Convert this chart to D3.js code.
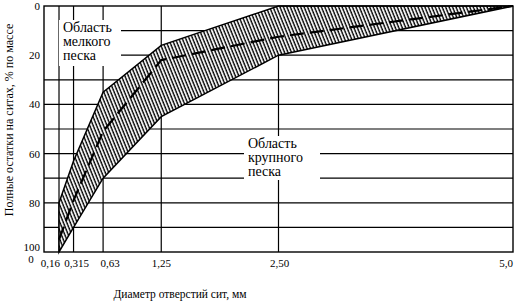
<!DOCTYPE html>
<html>
<head>
<meta charset="utf-8">
<script src="https://cdn.jsdelivr.net/npm/d3@7"></script>
<style>
  body { margin: 0; background: #fff; }
  svg text { font-family: "Liberation Serif", "Times New Roman", Times, "DejaVu Serif", serif; }
</style>
</head>
<body>
<svg width="517" height="304"></svg>
<script>
// Sieve sizes (mm) and their labels
const sieves = [0.16, 0.315, 0.63, 1.25, 2.5, 5.0];
const sieveLabels = ["0,16", "0,315", "0,63", "1,25", "2,50", "5,0"];

// Total residue on sieves, % by mass
const fineLimit   = [80, 63, 35, 16, 0, 0];    // upper edge of the band
const coarseLimit = [100, 90, 70, 45, 20, 0];  // lower edge of the band
const middleLine  = [95, 79, 51, 22, 12.5, 0]; // dashed line

const yTicks = [0, 20, 40, 60, 80, 100];
const yGrid = [10, 20, 30, 40, 50, 60, 70, 80, 90];

const svg = d3.select("svg");

const x = d3.scaleLinear().domain([0, 5]).range([44, 513]);
const y = d3.scaleLinear().domain([0, 100]).range([6, 252]);

// hatch pattern
const defs = svg.append("defs");
const pat = defs.append("pattern")
    .attr("id", "hatch")
    .attr("patternUnits", "userSpaceOnUse")
    .attr("width", 3.2)
    .attr("height", 10)
    .attr("patternTransform", "rotate(-22)");
pat.append("rect").attr("width", 3.2).attr("height", 10).attr("fill", "#fff");
pat.append("line")
    .attr("x1", 1).attr("y1", 0).attr("x2", 1).attr("y2", 10)
    .attr("stroke", "#000").attr("stroke-width", 1.4);

// grid
const grid = svg.append("g").attr("stroke", "#000").attr("stroke-width", 1.2);
grid.selectAll("line.h")
  .data(yGrid)
  .enter().append("line")
    .attr("x1", d => d <= 20 ? x(0.16) : x(0))
    .attr("x2", x(5))
    .attr("y1", d => y(d))
    .attr("y2", d => y(d));
grid.selectAll("line.v")
  .data(sieves.slice(0, -1))
  .enter().append("line")
    .attr("x1", d => x(d))
    .attr("x2", d => x(d))
    .attr("y1", y(0))
    .attr("y2", y(100));

// band
const pts = sieves.map((s, i) => ({s, lo: fineLimit[i], hi: coarseLimit[i], mid: middleLine[i]}));
const band = d3.area()
    .x(d => x(d.s))
    .y0(d => y(d.hi))
    .y1(d => y(d.lo));
svg.append("path")
    .datum(pts)
    .attr("d", band)
    .attr("fill", "url(#hatch)")
    .attr("stroke", "#000")
    .attr("stroke-width", 1.5);

// dashed middle line
svg.append("path")
    .datum(pts)
    .attr("d", d3.line().x(d => x(d.s)).y(d => y(d.mid)))
    .attr("fill", "none")
    .attr("stroke", "#000")
    .attr("stroke-width", 2.2)
    .attr("stroke-dasharray", "14,6");

// region labels with white backing
function regionLabel(lines, x0, y0, boxW, boxH) {
  const g = svg.append("g");
  g.append("rect")
    .attr("x", x0 - 4).attr("y", y0 - 12)
    .attr("width", boxW).attr("height", boxH)
    .attr("fill", "#fff");
  g.selectAll("text")
    .data(lines)
    .enter().append("text")
      .attr("x", x0)
      .attr("y", (d, i) => y0 + i * 14)
      .attr("font-size", 14)
      .text(d => d);
}
regionLabel(["Область", "мелкого", "песка"], 63, 32, 62, 46);
regionLabel(["Область", "крупного", "песка"], 248, 148, 76, 44);

// frame
svg.append("rect")
    .attr("x", x(0)).attr("y", y(0))
    .attr("width", x(5) - x(0)).attr("height", y(100) - y(0))
    .attr("fill", "none")
    .attr("stroke", "#000")
    .attr("stroke-width", 1.4);

// y tick labels
svg.append("g").selectAll("text")
  .data(yTicks)
  .enter().append("text")
    .attr("x", x(0) - 4)
    .attr("y", d => y(d) + (d === 100 ? -1 : 4))
    .attr("text-anchor", "end")
    .attr("font-size", 11)
    .text(d => d);

// x tick labels
const anchors = ["end", "middle", "middle", "middle", "middle", "end"];
const shifts = [1, 3, 7, 0, 1, 0];
svg.append("g").selectAll("text")
  .data(sieves)
  .enter().append("text")
    .attr("x", (d, i) => x(d) + shifts[i])
    .attr("y", 267)
    .attr("text-anchor", (d, i) => anchors[i])
    .attr("font-size", 11)
    .text((d, i) => sieveLabels[i]);
svg.append("text")
    .attr("x", x(0) - 13).attr("y", 263)
    .attr("text-anchor", "middle")
    .attr("font-size", 11)
    .text("0");

// axis titles
svg.append("text")
    .attr("x", 180).attr("y", 298)
    .attr("text-anchor", "middle")
    .attr("font-size", 11.5)
    .text("Диаметр отверстий сит, мм");
svg.append("text")
    .attr("transform", "translate(13,120) rotate(-90)")
    .attr("text-anchor", "middle")
    .attr("font-size", 12)
    .text("Полные остатки на ситах, % по массе");
</script>
</body>
</html>
